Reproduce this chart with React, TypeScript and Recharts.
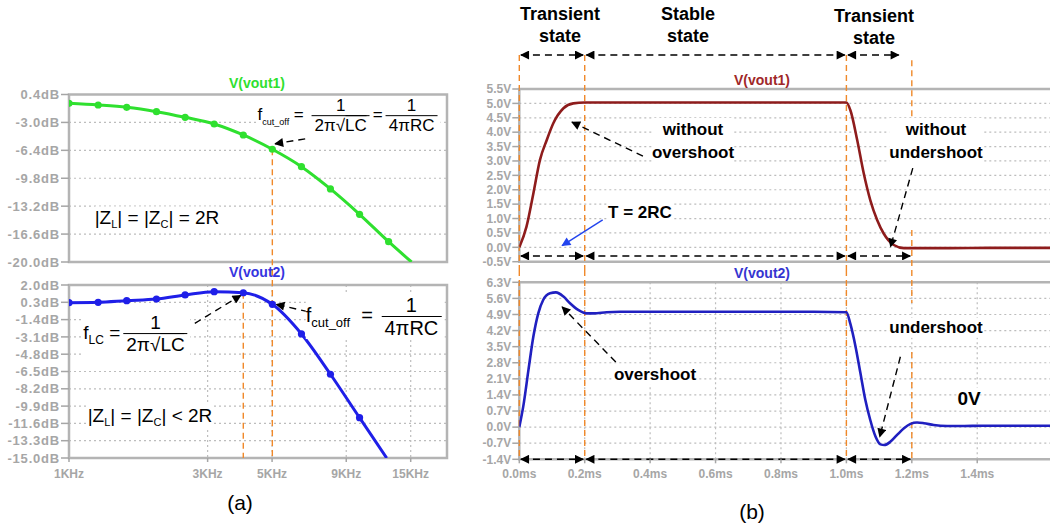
import React from 'react'
import {
  ComposedChart, Line, XAxis, YAxis, CartesianGrid, ReferenceLine, ReferenceArea,
} from 'recharts'

// (a) frequency response, kHz / dB
const freqVout1 = [1, 1.26, 1.58, 2.0, 2.51, 3.16, 3.98, 5.01, 6.31, 7.94, 10, 12.59, 15.1]
const gainVout1 = [-0.67, -0.88, -1.16, -1.69, -2.38, -3.19, -4.53, -6.27, -8.39, -11.1, -14.19, -17.53, -20]
const freqVout2 = [1, 1.26, 1.58, 2.0, 2.51, 3.16, 3.98, 5.01, 6.31, 7.94, 10, 12.4]
const gainVout2 = [0.26, 0.3, 0.46, 0.62, 1.02, 1.34, 1.24, 0.1, -2.81, -6.77, -11.04, -15]

// (b) step response, ms / V
const timeVout1 = [0, 0.022, 0.043, 0.063, 0.084, 0.104, 0.135, 0.165, 0.2, 0.3, 0.5, 0.7, 0.9, 1.0, 1.012, 1.033, 1.053, 1.073, 1.094, 1.114, 1.145, 1.176, 1.2, 1.3, 1.45, 1.65]
const voltVout1 = [0, 0.72, 1.87, 3.03, 3.73, 4.31, 4.83, 5.0, 5.03, 5.03, 5.03, 5.03, 5.03, 5.03, 4.77, 3.73, 2.57, 1.64, 0.95, 0.48, 0.08, -0.03, -0.03, -0.03, -0.02, -0.02]
const timeVout2 = [0, 0.012, 0.028, 0.043, 0.058, 0.073, 0.094, 0.112, 0.135, 0.155, 0.18, 0.206, 0.227, 0.267, 0.308, 0.5, 0.7, 0.9, 1.0, 1.012, 1.028, 1.043, 1.058, 1.073, 1.089, 1.104, 1.116, 1.135, 1.155, 1.176, 1.196, 1.216, 1.237, 1.267, 1.308, 1.36, 1.41, 1.48, 1.65]
const voltVout2 = [0, 0.89, 2.49, 3.94, 4.95, 5.53, 5.82, 5.86, 5.68, 5.39, 5.1, 4.95, 4.95, 5.0, 5.02, 5.02, 5.02, 5.02, 5.0, 4.5, 3.5, 2.34, 1.18, 0.31, -0.41, -0.75, -0.78, -0.63, -0.34, -0.05, 0.14, 0.2, 0.17, 0.09, 0.05, 0.05, 0.06, 0.06, 0.06]

const gain1Ticks = [0.4, -3.0, -6.4, -9.8, -13.2, -16.6, -20.0]
const gain2Ticks = [2.0, 0.3, -1.4, -3.1, -4.8, -6.5, -8.2, -9.9, -11.6, -13.3, -15.0]
const freqTicks = [1, 3, 5, 9, 15]
const freqLabels = ['1KHz', '3KHz', '5KHz', '9KHz', '15KHz']
const volt1Ticks = [5.5, 5.0, 4.5, 4.0, 3.5, 3.0, 2.5, 2.0, 1.5, 1.0, 0.5, 0.0, -0.5]
const volt2Ticks = [6.3, 5.6, 4.9, 4.2, 3.5, 2.8, 2.1, 1.4, 0.7, 0.0, -0.7, -1.4]
const timeTicks = [0, 0.2, 0.4, 0.6, 0.8, 1.0, 1.2, 1.4]

const rowsA1 = freqVout1.map((f, i) => ({ f, g: gainVout1[i] }))
const rowsA2 = freqVout2.map((f, i) => ({ f, g: gainVout2[i] }))
const rowsB1 = timeVout1.map((t, i) => ({ t, v: voltVout1[i] }))
const rowsB2 = timeVout2.map((t, i) => ({ t, v: voltVout2[i] }))

const GREEN = '#2fe02f'
const BLUE = '#1f1fe8'
const DARKRED = '#8e1c1c'
const NAVY = '#2020c0'
const ORANGE = '#f0892a'
const GRID = '#bdbdbd'
const FRAME = '#b4b4b4'
const TICK = '#a6a6a6'
const FONT = '"Liberation Sans", Arial, sans-serif'

const tickStyle = { fill: TICK, fontSize: 12, fontWeight: 700, fontFamily: FONT }
const dbTickStyle = { ...tickStyle, fontSize: 13, letterSpacing: 0.8 }

const markerDot = (color: string, last: number) => (p: any) =>
  p.index < last
    ? <circle key={p.index} cx={p.cx} cy={p.cy} r={3.6} fill={color} stroke="none" />
    : <g key={p.index} />

const arrow = (color: string, dashed: boolean, both = false) => (p: any) => (
  <line
    x1={p.x1} y1={p.y1} x2={p.x2} y2={p.y2}
    stroke={color} strokeWidth={1.4}
    strokeDasharray={dashed ? '7 5' : undefined}
    markerEnd={`url(#${color === '#000' ? 'ahBlack' : 'ahBlue'})`}
    markerStart={both ? 'url(#ahBlack)' : undefined}
  />
)

const orangeProps = { stroke: ORANGE, strokeWidth: 1.4, strokeDasharray: '6 4', ifOverflow: 'visible' as const }

function Note({ x, y, children, style }: { x: number; y: number; children: React.ReactNode; style?: React.CSSProperties }) {
  return (
    <div style={{
      position: 'absolute', left: x, top: y, transform: 'translate(-50%, -50%)',
      whiteSpace: 'nowrap', background: '#fff', textAlign: 'center', lineHeight: 1.2,
      fontFamily: FONT, color: '#000', ...style,
    }}>
      {children}
    </div>
  )
}

function Frac({ num, den }: { num: React.ReactNode; den: React.ReactNode }) {
  return (
    <span style={{ display: 'inline-flex', flexDirection: 'column', alignItems: 'center', verticalAlign: 'middle', margin: '0 3px' }}>
      <span style={{ padding: '0 2px', lineHeight: 1.05 }}>{num}</span>
      <span style={{ borderTop: '1.3px solid #000', padding: '1px 3px 0', lineHeight: 1.05 }}>{den}</span>
    </span>
  )
}

const Sqrt = ({ children }: { children: React.ReactNode }) => (
  <span>√<span style={{ borderTop: '1.3px solid #000' }}>{children}</span></span>
)

const sub = (s: string, size: number) => <sub style={{ fontSize: size, verticalAlign: 'sub' }}>{s}</sub>

export default function App() {
  return (
    <div style={{ position: 'absolute', left: 0, top: 0, width: 1050, height: 524, overflow: 'hidden', background: '#fff', fontFamily: FONT }}>
      <svg width={0} height={0} style={{ position: 'absolute' }}>
        <defs>
          <marker id="ahBlack" viewBox="0 0 10 10" refX={9} refY={5} markerWidth={11} markerHeight={9} markerUnits="userSpaceOnUse" orient="auto-start-reverse">
            <path d="M0,0 L10,5 L0,10 z" fill="#000" />
          </marker>
          <marker id="ahBlue" viewBox="0 0 10 10" refX={9} refY={5} markerWidth={11} markerHeight={9} markerUnits="userSpaceOnUse" orient="auto-start-reverse">
            <path d="M0,0 L10,5 L0,10 z" fill="#2244ee" />
          </marker>
        </defs>
      </svg>

      {/* (a) top: V(vout1) */}
      <div style={{ position: 'absolute', left: 0, top: 60 }}>
        <ComposedChart width={460} height={215} data={rowsA1} margin={{ top: 34.5, right: 13, bottom: 13, left: 0 }}>
          <CartesianGrid strokeDasharray="2 3" stroke={GRID} strokeWidth={1.2} />
          <XAxis dataKey="f" type="number" scale="log" domain={[1, 20]} ticks={freqTicks} height={0}
            tick={false} tickLine={false} axisLine={false} allowDataOverflow />
          <YAxis type="number" domain={[-20, 0.4]} ticks={gain1Ticks} interval={0} width={69}
            tick={dbTickStyle} tickSize={8} tickMargin={1} tickLine={{ stroke: TICK, strokeWidth: 1.5 }}
            axisLine={false} tickFormatter={(v: number) => `${v.toFixed(1)}dB`} allowDataOverflow />
          <ReferenceArea x1={1} x2={20} y1={-20} y2={0.4} fill="none" stroke={FRAME} strokeWidth={2.5} />
          <ReferenceLine segment={[{ x: 5.01, y: -6.27 }, { x: 5.01, y: -21.6 }]} {...orangeProps} />
          <Line type="monotone" dataKey="g" stroke={GREEN} strokeWidth={3} isAnimationActive={false}
            dot={markerDot(GREEN, freqVout1.length - 1)} activeDot={false} />
          <ReferenceLine segment={[{ x: 6.5, y: -5.0 }, { x: 5.12, y: -5.6 }]} ifOverflow="visible" shape={arrow('#000', true)} />
        </ComposedChart>
      </div>

      {/* (a) bottom: V(vout2) */}
      <div style={{ position: 'absolute', left: 0, top: 270 }}>
        <ComposedChart width={460} height={254} data={rowsA2} margin={{ top: 15, right: 13, bottom: 36, left: 0 }}>
          <CartesianGrid strokeDasharray="2 3" stroke={GRID} strokeWidth={1.2} />
          <XAxis dataKey="f" type="number" scale="log" domain={[1, 20]} ticks={freqTicks} interval={0} height={30}
            tick={tickStyle} tickSize={4} tickMargin={7} tickLine={{ stroke: TICK, strokeWidth: 1.5 }} axisLine={false}
            tickFormatter={(v: number) => freqLabels[freqTicks.indexOf(v)]} allowDataOverflow />
          <YAxis type="number" domain={[-15, 2]} ticks={gain2Ticks} interval={0} width={69}
            tick={dbTickStyle} tickSize={8} tickMargin={1} tickLine={{ stroke: TICK, strokeWidth: 1.5 }}
            axisLine={false} tickFormatter={(v: number) => `${v.toFixed(1)}dB`} allowDataOverflow />
          <ReferenceArea x1={1} x2={20} y1={-15} y2={2} fill="none" stroke={FRAME} strokeWidth={2.5} />
          <ReferenceLine segment={[{ x: 5.01, y: 3.47 }, { x: 5.01, y: -15 }]} {...orangeProps} />
          <ReferenceLine segment={[{ x: 3.98, y: 1.24 }, { x: 3.98, y: -15 }]} {...orangeProps} />
          <Line type="monotone" dataKey="g" stroke={BLUE} strokeWidth={3} isAnimationActive={false}
            dot={markerDot(BLUE, freqVout2.length - 1)} activeDot={false} />
          <ReferenceLine segment={[{ x: 2.71, y: -1.77 }, { x: 3.9, y: 0.98 }]} ifOverflow="visible" shape={arrow('#000', true)} />
          <ReferenceLine segment={[{ x: 6.64, y: -0.62 }, { x: 5.17, y: 0.1 }]} ifOverflow="visible" shape={arrow('#000', true)} />
        </ComposedChart>
      </div>

      {/* (b) top: V(vout1) */}
      <div style={{ position: 'absolute', left: 480, top: 0 }}>
        <ComposedChart width={580} height={270} data={rowsB1} margin={{ top: 89, right: 1, bottom: 8.3, left: 0 }}>
          <CartesianGrid strokeDasharray="2 3" stroke={GRID} strokeWidth={1.2} />
          <XAxis dataKey="t" type="number" domain={[0, 1.65]} ticks={timeTicks} height={0}
            tick={false} tickLine={false} axisLine={false} allowDataOverflow />
          <YAxis type="number" domain={[-0.5, 5.5]} ticks={volt1Ticks} interval={0} width={39.3}
            tick={tickStyle} tickSize={7} tickMargin={1} tickLine={{ stroke: TICK, strokeWidth: 1.5 }}
            axisLine={false} tickFormatter={(v: number) => `${v.toFixed(1)}V`} allowDataOverflow />
          <ReferenceArea x1={0} x2={1.65} y1={-0.5} y2={5.5} fill="none" stroke={FRAME} strokeWidth={2.5} />
          <ReferenceLine segment={[{ x: 0, y: 6.68 }, { x: 0, y: -0.79 }]} {...orangeProps} />
          <ReferenceLine segment={[{ x: 0.2, y: 6.68 }, { x: 0.2, y: -0.79 }]} {...orangeProps} />
          <ReferenceLine segment={[{ x: 1.0, y: 6.68 }, { x: 1.0, y: -0.79 }]} {...orangeProps} />
          <ReferenceLine segment={[{ x: 1.2, y: 6.5 }, { x: 1.2, y: 4.53 }]} {...orangeProps} />
          <ReferenceLine segment={[{ x: 1.2, y: 0.6 }, { x: 1.2, y: -0.79 }]} {...orangeProps} />
          <Line type="monotone" dataKey="v" stroke={DARKRED} strokeWidth={2.6} isAnimationActive={false} dot={false} activeDot={false} />
          <ReferenceLine segment={[{ x: 0.005, y: 6.68 }, { x: 0.195, y: 6.68 }]} ifOverflow="visible" shape={arrow('#000', true, true)} />
          <ReferenceLine segment={[{ x: 0.205, y: 6.68 }, { x: 0.995, y: 6.68 }]} ifOverflow="visible" shape={arrow('#000', true, true)} />
          <ReferenceLine segment={[{ x: 1.005, y: 6.68 }, { x: 1.16, y: 6.68 }]} ifOverflow="visible" shape={arrow('#000', true, true)} />
          <ReferenceLine segment={[{ x: 0.005, y: -0.3 }, { x: 0.195, y: -0.3 }]} ifOverflow="visible" shape={arrow('#000', true, true)} />
          <ReferenceLine segment={[{ x: 0.205, y: -0.3 }, { x: 0.995, y: -0.3 }]} ifOverflow="visible" shape={arrow('#000', true, true)} />
          <ReferenceLine segment={[{ x: 1.005, y: -0.3 }, { x: 1.195, y: -0.3 }]} ifOverflow="visible" shape={arrow('#000', true, true)} />
          <ReferenceLine segment={[{ x: 0.378, y: 3.17 }, { x: 0.161, y: 4.35 }]} ifOverflow="visible" shape={arrow('#000', true)} />
          <ReferenceLine segment={[{ x: 1.203, y: 2.75 }, { x: 1.135, y: 0.02 }]} ifOverflow="visible" shape={arrow('#000', true)} />
          <ReferenceLine segment={[{ x: 0.255, y: 0.95 }, { x: 0.131, y: 0.06 }]} ifOverflow="visible" shape={arrow('#2244ee', false)} />
        </ComposedChart>
      </div>

      {/* (b) bottom: V(vout2) */}
      <div style={{ position: 'absolute', left: 480, top: 270 }}>
        <ComposedChart width={580} height={254} data={rowsB2} margin={{ top: 12.3, right: 1, bottom: 34.7, left: 0 }}>
          <CartesianGrid strokeDasharray="2 3" stroke={GRID} strokeWidth={1.2} />
          <XAxis dataKey="t" type="number" domain={[0, 1.65]} ticks={timeTicks} interval={0} height={30}
            tick={tickStyle} tickSize={4} tickMargin={6} tickLine={{ stroke: TICK, strokeWidth: 1.5 }} axisLine={false}
            tickFormatter={(v: number) => `${v.toFixed(1)}ms`} allowDataOverflow />
          <YAxis type="number" domain={[-1.4, 6.3]} ticks={volt2Ticks} interval={0} width={39.3}
            tick={tickStyle} tickSize={7} tickMargin={1} tickLine={{ stroke: TICK, strokeWidth: 1.5 }}
            axisLine={false} tickFormatter={(v: number) => `${v.toFixed(1)}V`} allowDataOverflow />
          <ReferenceArea x1={0} x2={1.65} y1={-1.4} y2={6.3} fill="none" stroke={FRAME} strokeWidth={2.5} />
          <ReferenceLine segment={[{ x: 0, y: 6.83 }, { x: 0, y: -1.4 }]} {...orangeProps} />
          <ReferenceLine segment={[{ x: 0.2, y: 6.83 }, { x: 0.2, y: -1.4 }]} {...orangeProps} />
          <ReferenceLine segment={[{ x: 1.0, y: 6.83 }, { x: 1.0, y: -1.4 }]} {...orangeProps} />
          <ReferenceLine segment={[{ x: 1.2, y: 6.83 }, { x: 1.2, y: 5.4 }]} {...orangeProps} />
          <ReferenceLine segment={[{ x: 1.2, y: 3.27 }, { x: 1.2, y: -1.4 }]} {...orangeProps} />
          <Line type="monotone" dataKey="v" stroke={NAVY} strokeWidth={2.6} isAnimationActive={false} dot={false} activeDot={false} />
          <ReferenceLine segment={[{ x: 0.005, y: -1.4 }, { x: 0.195, y: -1.4 }]} ifOverflow="visible" shape={arrow('#000', true, true)} />
          <ReferenceLine segment={[{ x: 0.205, y: -1.4 }, { x: 0.995, y: -1.4 }]} ifOverflow="visible" shape={arrow('#000', true, true)} />
          <ReferenceLine segment={[{ x: 1.005, y: -1.4 }, { x: 1.195, y: -1.4 }]} ifOverflow="visible" shape={arrow('#000', true, true)} />
          <ReferenceLine segment={[{ x: 0.295, y: 2.83 }, { x: 0.131, y: 5.23 }]} ifOverflow="visible" shape={arrow('#000', true)} />
          <ReferenceLine segment={[{ x: 1.165, y: 3.06 }, { x: 1.102, y: -0.42 }]} ifOverflow="visible" shape={arrow('#000', true)} />
        </ComposedChart>
      </div>

      {/* titles */}
      <Note x={257} y={83} style={{ color: GREEN, fontWeight: 700, fontSize: 14, background: 'transparent' }}>V(vout1)</Note>
      <Note x={257} y={272} style={{ color: '#3535e0', fontWeight: 700, fontSize: 14, background: 'transparent' }}>V(vout2)</Note>
      <Note x={762} y={80} style={{ color: '#a02828', fontWeight: 700, fontSize: 14, background: 'transparent' }}>V(vout1)</Note>
      <Note x={762} y={273} style={{ color: '#3535d0', fontWeight: 700, fontSize: 14, background: 'transparent' }}>V(vout2)</Note>

      {/* (a) annotations */}
      <Note x={349} y={116} style={{ fontSize: 17 }}>
        f{sub('cut_off', 9)} = <Frac num="1" den={<>2π<Sqrt>LC</Sqrt></>} />=<Frac num="1" den="4πRC" />
      </Note>
      <Note x={157} y={219} style={{ fontSize: 19 }}>
        |Z{sub('L', 11)}| = |Z{sub('C', 11)}| = 2R
      </Note>
      <Note x={137} y={334} style={{ fontSize: 19 }}>
        f{sub('LC', 12)} =<Frac num="1" den={<>2π<Sqrt>LC</Sqrt></>} />
      </Note>
      <Note x={375} y={317} style={{ fontSize: 20 }}>
        f{sub('cut_off', 13)}&nbsp;&nbsp;=&nbsp;<Frac num="1" den="4πRC" />
      </Note>
      <Note x={150} y={417} style={{ fontSize: 19 }}>
        |Z{sub('L', 11)}| = |Z{sub('C', 11)}| &lt; 2R
      </Note>
      <Note x={240} y={503} style={{ fontSize: 21 }}>(a)</Note>

      {/* (b) annotations */}
      <Note x={560} y={25} style={{ fontSize: 18, fontWeight: 700, lineHeight: '22px', background: 'transparent' }}>Transient<br />state</Note>
      <Note x={688} y={25} style={{ fontSize: 18, fontWeight: 700, lineHeight: '22px', background: 'transparent' }}>Stable<br />state</Note>
      <Note x={874} y={27} style={{ fontSize: 18, fontWeight: 700, lineHeight: '22px', background: 'transparent' }}>Transient<br />state</Note>
      <Note x={693} y={141} style={{ fontSize: 17, fontWeight: 700, lineHeight: '23px' }}>without<br />overshoot</Note>
      <Note x={936} y={141} style={{ fontSize: 17, fontWeight: 700, lineHeight: '23px' }}>without<br />undershoot</Note>
      <Note x={640} y={213} style={{ fontSize: 17, fontWeight: 700 }}>T = 2RC</Note>
      <Note x={655} y={375} style={{ fontSize: 17, fontWeight: 700 }}>overshoot</Note>
      <Note x={936} y={328} style={{ fontSize: 17, fontWeight: 700 }}>undershoot</Note>
      <Note x={969} y={399} style={{ fontSize: 19, fontWeight: 700 }}>0V</Note>
      <Note x={752} y={512} style={{ fontSize: 21 }}>(b)</Note>
    </div>
  )
}
